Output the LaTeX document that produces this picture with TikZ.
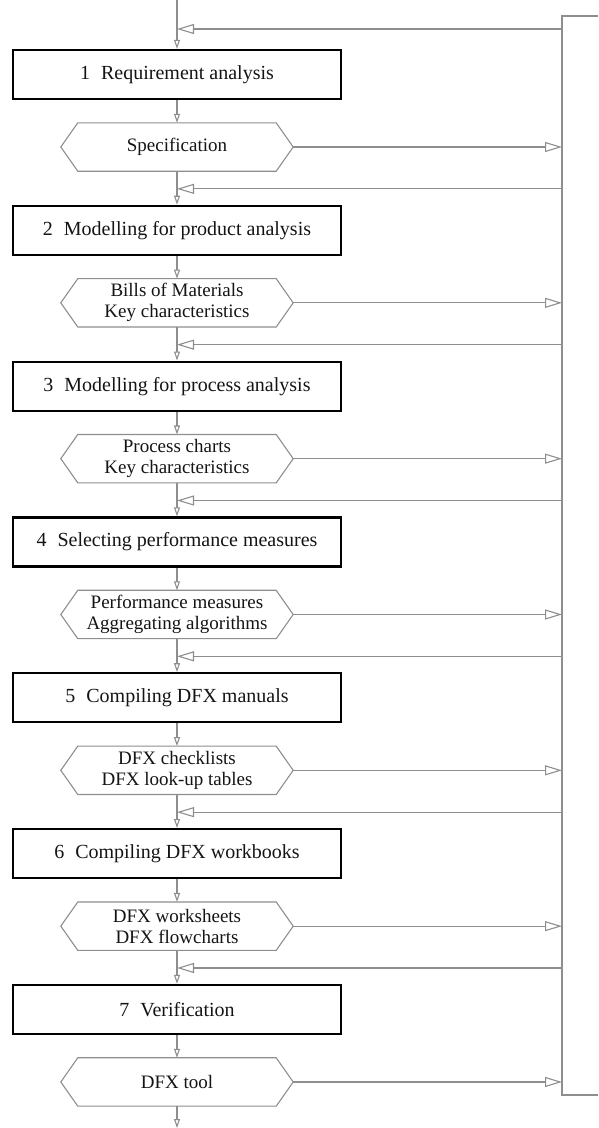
\documentclass[tikz,border=0pt]{standalone}
\usepackage{fontspec}
\setmainfont{Liberation Serif}
\usetikzlibrary{arrows.meta,calc}
\definecolor{linegray}{HTML}{8E8E8E}
\definecolor{txt}{HTML}{141414}
\begin{document}
\begin{tikzpicture}[x=1pt,y=-1pt,
  stepbox/.style={draw=black, line width=2.3pt, minimum width=328pt, minimum height=49pt, inner sep=0pt, text=txt, font=\fontsize{20}{22}\selectfont},
  outbox/.style={minimum width=232pt, minimum height=48pt, inner sep=0pt, align=center, text=txt, font=\fontsize{19}{21}\selectfont},
  conn/.style={draw=linegray, line width=1.1pt},
  downarr/.style={-{Triangle[open,length=9pt,width=6pt]}},
  sidearr/.style={-{Triangle[open,length=17pt,width=10pt]}},
]
\useasboundingbox (0,0) rectangle (598,1128);
% right collecting box (right side outside the picture)
\coordinate (rtopR) at (598,16);
\coordinate (rtop) at (562,16);
\coordinate (rbot) at (562,1095);
\coordinate (rbotR) at (598,1095);
\draw[conn] (rtopR) -- (rtop) -- (rbot) -- (rbotR);
\coordinate (start) at (177,0);
\coordinate (finish) at (177,1128);

\foreach \i/\boxtxt/\hextxt in {
  1/{Requirement analysis}/{Specification},
  2/{Modelling for product analysis}/{Bills of Materials\\Key characteristics},
  3/{Modelling for process analysis}/{Process charts\\Key characteristics},
  4/{Selecting performance measures}/{Performance measures\\Aggregating algorithms},
  5/{Compiling DFX manuals}/{DFX checklists\\DFX look-up tables},
  6/{Compiling DFX workbooks}/{DFX worksheets\\DFX flowcharts},
  7/{Verification}/{DFX tool}}{
  \pgfmathsetmacro\T{50+155.83*(\i-1)}
  \node[stepbox] (b\i) at (177,{\T+24.5}) {\i\hspace{0.55em}\boxtxt};
  \node[outbox] (h\i) at (177,{\T+97}) {\hextxt};
  \draw[linegray, line width=1.1pt] (h\i.west) -- ($(h\i.north west)+(17,0)$) -- ($(h\i.north east)+(-17,0)$) -- (h\i.east) -- ($(h\i.south east)+(-17,0)$) -- ($(h\i.south west)+(17,0)$) -- cycle;
  \draw[conn,downarr] (b\i.south) -- (h\i.north);
  \draw[conn,sidearr] (h\i.east) -- (h\i.east -| rtop);
}
% feedback lines
\coordinate (fr1) at (562,29);
\draw[conn,sidearr] (fr1) -- (fr1 -| start);
\foreach \i in {2,...,7}{
  \pgfmathsetmacro\T{50+155.83*(\i-1)}
  \coordinate (fr\i) at (562,{\T-17});
  \draw[conn,sidearr] (fr\i) -- (fr\i -| start);
}
% vertical flow
\draw[conn,downarr] (start) -- (b1.north);
\foreach \i [evaluate=\i as \j using int(\i-1)] in {2,...,7}{
  \draw[conn,downarr] (h\j.south) -- (b\i.north);
}
\draw[conn,downarr] (h7.south) -- (finish);
\end{tikzpicture}
\end{document}
